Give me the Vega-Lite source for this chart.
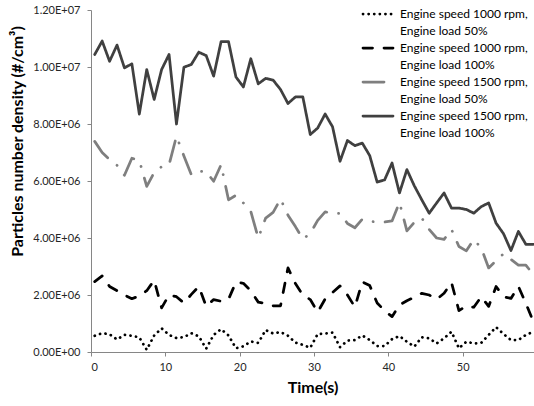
{
"$schema": "https://vega.github.io/schema/vega-lite/v6.json",
"width": 443, "height": 342,
"autosize": {"type": "none"},
"padding": {"left": 91, "top": 10, "right": 0, "bottom": 54},
"background": "white",
"config": {"view": {"stroke": null}, "font": "Lato"},
"data": {"values": [
{"t":0,"s":"a","v":570000},{"t":1,"s":"a","v":660000},{"t":2,"s":"a","v":620000},{"t":3,"s":"a","v":440000},{"t":4,"s":"a","v":600000},{"t":5,"s":"a","v":570000},{"t":6,"s":"a","v":510000},{"t":7,"s":"a","v":80000},{"t":8,"s":"a","v":580000},{"t":9,"s":"a","v":830000},
{"t":10,"s":"a","v":600000},{"t":11,"s":"a","v":490000},{"t":12,"s":"a","v":520000},{"t":13,"s":"a","v":660000},{"t":14,"s":"a","v":550000},{"t":15,"s":"a","v":120000},{"t":16,"s":"a","v":600000},{"t":17,"s":"a","v":800000},{"t":18,"s":"a","v":580000},{"t":19,"s":"a","v":130000},
{"t":20,"s":"a","v":200000},{"t":21,"s":"a","v":370000},{"t":22,"s":"a","v":320000},{"t":23,"s":"a","v":770000},{"t":24,"s":"a","v":650000},{"t":25,"s":"a","v":700000},{"t":26,"s":"a","v":570000},{"t":27,"s":"a","v":330000},{"t":28,"s":"a","v":250000},{"t":29,"s":"a","v":150000},
{"t":30,"s":"a","v":630000},{"t":31,"s":"a","v":650000},{"t":32,"s":"a","v":680000},{"t":33,"s":"a","v":170000},{"t":34,"s":"a","v":400000},{"t":35,"s":"a","v":420000},{"t":36,"s":"a","v":580000},{"t":37,"s":"a","v":420000},{"t":38,"s":"a","v":210000},{"t":39,"s":"a","v":210000},
{"t":40,"s":"a","v":450000},{"t":41,"s":"a","v":560000},{"t":42,"s":"a","v":360000},{"t":43,"s":"a","v":190000},{"t":44,"s":"a","v":520000},{"t":45,"s":"a","v":480000},{"t":46,"s":"a","v":300000},{"t":47,"s":"a","v":480000},{"t":48,"s":"a","v":710000},{"t":49,"s":"a","v":130000},
{"t":50,"s":"a","v":360000},{"t":51,"s":"a","v":300000},{"t":52,"s":"a","v":320000},{"t":53,"s":"a","v":600000},{"t":54,"s":"a","v":870000},{"t":55,"s":"a","v":630000},{"t":56,"s":"a","v":420000},{"t":57,"s":"a","v":420000},{"t":58,"s":"a","v":600000},{"t":59,"s":"a","v":710000},
{"t":0,"s":"b","v":2470000},{"t":1,"s":"b","v":2670000},{"t":2,"s":"b","v":2300000},{"t":3,"s":"b","v":2150000},{"t":4,"s":"b","v":2000000},{"t":5,"s":"b","v":1870000},{"t":6,"s":"b","v":1970000},{"t":7,"s":"b","v":2150000},{"t":8,"s":"b","v":2520000},{"t":9,"s":"b","v":1550000},
{"t":10,"s":"b","v":2000000},{"t":11,"s":"b","v":1940000},{"t":12,"s":"b","v":1720000},{"t":13,"s":"b","v":2020000},{"t":14,"s":"b","v":2300000},{"t":15,"s":"b","v":1600000},{"t":16,"s":"b","v":1840000},{"t":17,"s":"b","v":1780000},{"t":18,"s":"b","v":1850000},{"t":19,"s":"b","v":2450000},
{"t":20,"s":"b","v":2410000},{"t":21,"s":"b","v":2150000},{"t":22,"s":"b","v":1750000},{"t":23,"s":"b","v":1700000},{"t":24,"s":"b","v":1620000},{"t":25,"s":"b","v":1620000},{"t":26,"s":"b","v":2950000},{"t":27,"s":"b","v":2400000},{"t":28,"s":"b","v":2000000},{"t":29,"s":"b","v":1840000},
{"t":30,"s":"b","v":1400000},{"t":31,"s":"b","v":1860000},{"t":32,"s":"b","v":2090000},{"t":33,"s":"b","v":2320000},{"t":34,"s":"b","v":2000000},{"t":35,"s":"b","v":1580000},{"t":36,"s":"b","v":2460000},{"t":37,"s":"b","v":2330000},{"t":38,"s":"b","v":1720000},{"t":39,"s":"b","v":1450000},
{"t":40,"s":"b","v":1240000},{"t":41,"s":"b","v":1650000},{"t":42,"s":"b","v":1800000},{"t":43,"s":"b","v":1920000},{"t":44,"s":"b","v":2060000},{"t":45,"s":"b","v":2000000},{"t":46,"s":"b","v":1850000},{"t":47,"s":"b","v":2060000},{"t":48,"s":"b","v":2440000},{"t":49,"s":"b","v":1450000},
{"t":50,"s":"b","v":1620000},{"t":51,"s":"b","v":1570000},{"t":52,"s":"b","v":1940000},{"t":53,"s":"b","v":1600000},{"t":54,"s":"b","v":2300000},{"t":55,"s":"b","v":1940000},{"t":56,"s":"b","v":1880000},{"t":57,"s":"b","v":2300000},{"t":58,"s":"b","v":1710000},{"t":59,"s":"b","v":1070000},
{"t":0,"s":"c","v":7390000},{"t":1,"s":"c","v":7000000},{"t":2,"s":"c","v":6750000},{"t":3,"s":"c","v":6550000},{"t":4,"s":"c","v":6200000},{"t":5,"s":"c","v":6800000},{"t":6,"s":"c","v":6720000},{"t":7,"s":"c","v":5810000},{"t":8,"s":"c","v":6300000},{"t":9,"s":"c","v":6500000},
{"t":10,"s":"c","v":6570000},{"t":11,"s":"c","v":7570000},{"t":12,"s":"c","v":6880000},{"t":13,"s":"c","v":6220000},{"t":14,"s":"c","v":6340000},{"t":15,"s":"c","v":6330000},{"t":16,"s":"c","v":5990000},{"t":17,"s":"c","v":6570000},{"t":18,"s":"c","v":5340000},{"t":19,"s":"c","v":5500000},
{"t":20,"s":"c","v":5230000},{"t":21,"s":"c","v":4930000},{"t":22,"s":"c","v":4000000},{"t":23,"s":"c","v":4700000},{"t":24,"s":"c","v":4900000},{"t":25,"s":"c","v":5370000},{"t":26,"s":"c","v":4800000},{"t":27,"s":"c","v":4400000},{"t":28,"s":"c","v":3960000},{"t":29,"s":"c","v":4160000},
{"t":30,"s":"c","v":4620000},{"t":31,"s":"c","v":4920000},{"t":32,"s":"c","v":4850000},{"t":33,"s":"c","v":4870000},{"t":34,"s":"c","v":4510000},{"t":35,"s":"c","v":4360000},{"t":36,"s":"c","v":4660000},{"t":37,"s":"c","v":4590000},{"t":38,"s":"c","v":4550000},{"t":39,"s":"c","v":4560000},
{"t":40,"s":"c","v":4600000},{"t":41,"s":"c","v":5250000},{"t":42,"s":"c","v":4250000},{"t":43,"s":"c","v":4550000},{"t":44,"s":"c","v":4700000},{"t":45,"s":"c","v":4300000},{"t":46,"s":"c","v":4000000},{"t":47,"s":"c","v":3950000},{"t":48,"s":"c","v":4300000},{"t":49,"s":"c","v":3700000},
{"t":50,"s":"c","v":3550000},{"t":51,"s":"c","v":3950000},{"t":52,"s":"c","v":3650000},{"t":53,"s":"c","v":2950000},{"t":54,"s":"c","v":3200000},{"t":55,"s":"c","v":3450000},{"t":56,"s":"c","v":3250000},{"t":57,"s":"c","v":3050000},{"t":58,"s":"c","v":3050000},{"t":59,"s":"c","v":2720000},
{"t":0,"s":"d","v":10440000},{"t":1,"s":"d","v":10910000},{"t":2,"s":"d","v":10200000},{"t":3,"s":"d","v":10770000},{"t":4,"s":"d","v":9970000},{"t":5,"s":"d","v":10110000},{"t":6,"s":"d","v":8350000},{"t":7,"s":"d","v":9910000},{"t":8,"s":"d","v":8860000},{"t":9,"s":"d","v":9910000},
{"t":10,"s":"d","v":10440000},{"t":11,"s":"d","v":8000000},{"t":12,"s":"d","v":9990000},{"t":13,"s":"d","v":10090000},{"t":14,"s":"d","v":10520000},{"t":15,"s":"d","v":10400000},{"t":16,"s":"d","v":9680000},{"t":17,"s":"d","v":10890000},{"t":18,"s":"d","v":10890000},{"t":19,"s":"d","v":9650000},
{"t":20,"s":"d","v":9300000},{"t":21,"s":"d","v":10290000},{"t":22,"s":"d","v":9410000},{"t":23,"s":"d","v":9600000},{"t":24,"s":"d","v":9540000},{"t":25,"s":"d","v":9210000},{"t":26,"s":"d","v":8720000},{"t":27,"s":"d","v":8950000},{"t":28,"s":"d","v":8950000},{"t":29,"s":"d","v":7630000},
{"t":30,"s":"d","v":7860000},{"t":31,"s":"d","v":8350000},{"t":32,"s":"d","v":7900000},{"t":33,"s":"d","v":6690000},{"t":34,"s":"d","v":7420000},{"t":35,"s":"d","v":7240000},{"t":36,"s":"d","v":7330000},{"t":37,"s":"d","v":6890000},{"t":38,"s":"d","v":5960000},{"t":39,"s":"d","v":6040000},
{"t":40,"s":"d","v":6630000},{"t":41,"s":"d","v":5580000},{"t":42,"s":"d","v":6400000},{"t":43,"s":"d","v":5830000},{"t":44,"s":"d","v":5340000},{"t":45,"s":"d","v":4870000},{"t":46,"s":"d","v":5230000},{"t":47,"s":"d","v":5580000},{"t":48,"s":"d","v":5050000},{"t":49,"s":"d","v":5050000},
{"t":50,"s":"d","v":5000000},{"t":51,"s":"d","v":4870000},{"t":52,"s":"d","v":5100000},{"t":53,"s":"d","v":5230000},{"t":54,"s":"d","v":4520000},{"t":55,"s":"d","v":4150000},{"t":56,"s":"d","v":3560000},{"t":57,"s":"d","v":4230000},{"t":58,"s":"d","v":3780000},{"t":59,"s":"d","v":3780000}
]},
"mark": {"type": "line", "strokeWidth": 2.75, "strokeCap": "round", "strokeJoin": "round"},
"encoding": {
  "x": {"field": "t", "type": "quantitative",
    "scale": {"domain": [-0.5, 59.1], "nice": false, "zero": false},
    "axis": {"values": [-0.5,9.5,19.5,29.5,39.5,49.5], "labelExpr": "format(datum.value + 0.5, 'd')", "title": "Time(s)", "grid": false,
      "labelFontSize": 11, "labelColor": "#262626", "labelPadding": 5,
      "tickSize": 4, "tickColor": "#868686", "domainColor": "#868686",
      "titleFontSize": 16, "titleFontWeight": "bold", "titleColor": "#000000", "titlePadding": 7}},
  "y": {"field": "v", "type": "quantitative",
    "scale": {"domain": [0, 12000000], "nice": false},
    "axis": {"values": [0,2000000,4000000,6000000,8000000,10000000,12000000],
      "labelExpr": "replace(format(datum.value, '.2e'), 'e+', 'E+0')",
      "title": "Particles number density (#/cm³)", "grid": false,
      "labelFontSize": 11, "labelColor": "#262626", "labelPadding": 7,
      "tickSize": 4, "tickColor": "#868686", "domainColor": "#868686",
      "titleFontSize": 16, "titleFontWeight": "bold", "titleColor": "#000000",
      "titleAngle": 270, "titleX": -74, "titleY": 131, "titleAlign": "center", "titleBaseline": "middle"}},
  "color": {"field": "s", "type": "nominal",
    "scale": {"domain": ["a","b","c","d"], "range": ["#000000","#000000","#7f7f7f","#404040"]},
    "legend": {"orient": "none", "legendX": 278, "legendY": -5, "title": null, "padding": 0,
      "symbolType": "M-2,0L2,0", "symbolSize": 225, "symbolStrokeWidth": 2.75,
      "labelFontSize": 12, "labelLimit": 300, "labelOffset": 13, "labelColor": "#000000", "labelBaseline": "alphabetic", "rowPadding": 2,
      "encode": {"labels": {"update": {"dy": {"value": 4}, "lineHeight": {"value": 16.5}}}, "symbols": {"update": {"strokeCap": {"value": "round"}}}},
      "labelExpr": "datum.label == 'a' ? ['Engine speed 1000 rpm,', 'Engine load 50%'] : datum.label == 'b' ? ['Engine speed 1000 rpm,', 'Engine load 100%'] : datum.label == 'c' ? ['Engine speed 1500 rpm,', 'Engine load 50%'] : ['Engine speed 1500 rpm,', 'Engine load 100%']"}},
  "strokeDash": {"field": "s", "type": "nominal",
    "scale": {"domain": ["a","b","c","d"], "range": [[0.1,5.5],[9.5,11.5],[21,12,0.1,12],[1,0]]},
    "legend": {"orient": "none", "legendX": 278, "legendY": -5, "title": null, "padding": 0,
      "symbolType": "M-2,0L2,0", "symbolSize": 225, "symbolStrokeWidth": 2.75,
      "labelFontSize": 12, "labelLimit": 300, "labelOffset": 13, "labelColor": "#000000", "labelBaseline": "alphabetic", "rowPadding": 2,
      "encode": {"labels": {"update": {"dy": {"value": 4}, "lineHeight": {"value": 16.5}}}, "symbols": {"update": {"strokeCap": {"value": "round"}}}},
      "labelExpr": "datum.label == 'a' ? ['Engine speed 1000 rpm,', 'Engine load 50%'] : datum.label == 'b' ? ['Engine speed 1000 rpm,', 'Engine load 100%'] : datum.label == 'c' ? ['Engine speed 1500 rpm,', 'Engine load 50%'] : ['Engine speed 1500 rpm,', 'Engine load 100%']"}}
}
}
